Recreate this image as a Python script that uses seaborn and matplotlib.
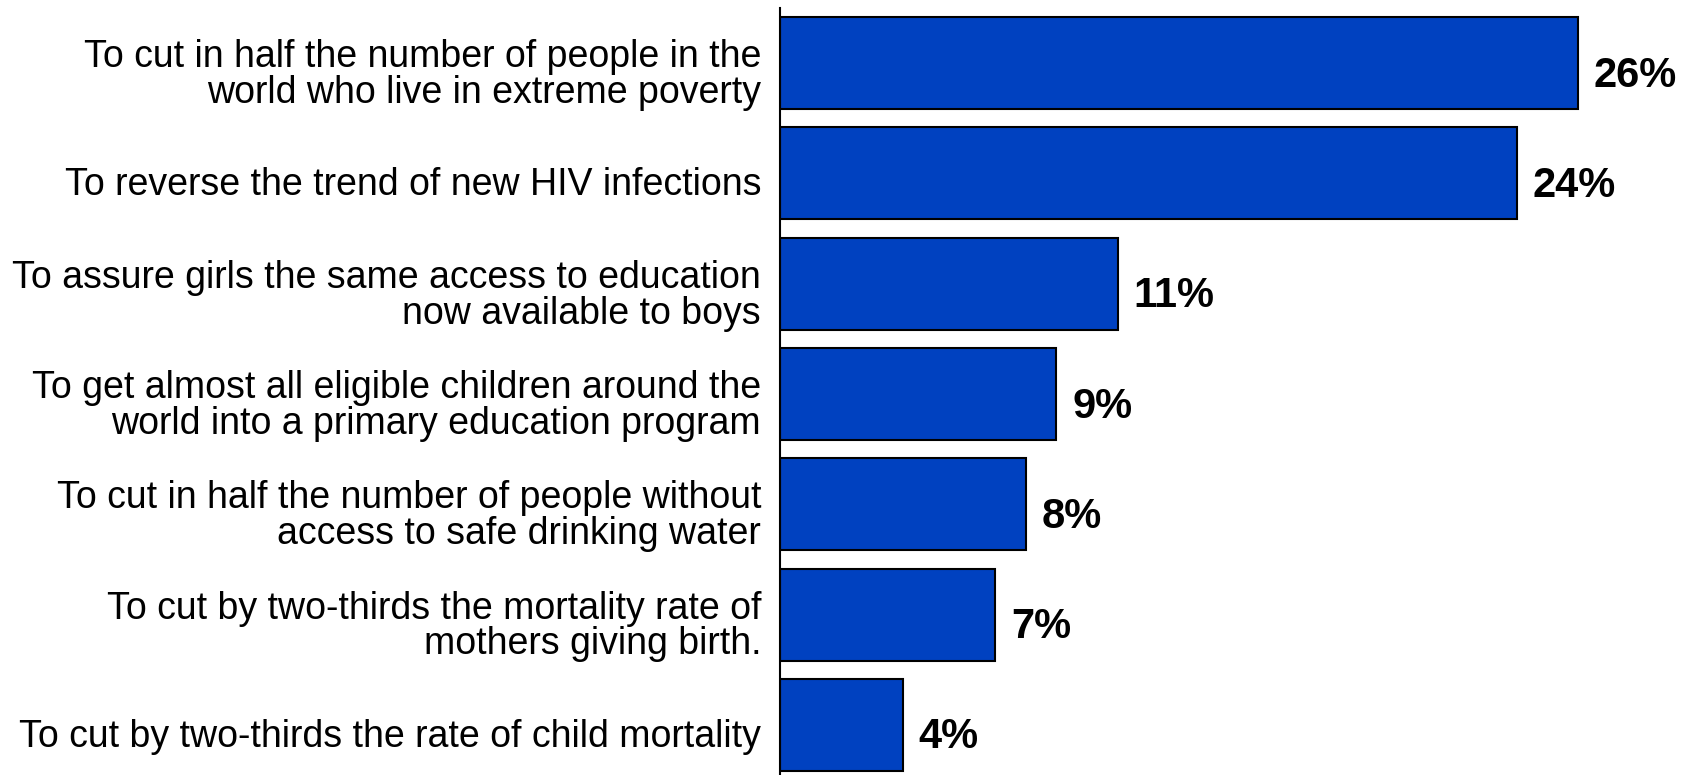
import matplotlib
matplotlib.use("Agg")
import matplotlib.pyplot as plt
import matplotlib.transforms as mtransforms
import seaborn as sns
import pandas as pd

categories = [
    "To cut in half the number of people in the\nworld who live in extreme poverty",
    "To reverse the trend of new HIV infections",
    "To assure girls the same access to education\nnow available to boys",
    "To get almost all eligible children around the\nworld into a primary education program",
    "To cut in half the number of people without\naccess to safe drinking water",
    "To cut by two-thirds the mortality rate of\nmothers giving birth.",
    "To cut by two-thirds the rate of child mortality",
]
values = [26, 24, 11, 9, 8, 7, 4]
value_labels = ["26%", "24%", "11%", "9%", "8%", "7%", "4%"]

sns.set_style("white")
plt.rcParams['font.family'] = ['Liberation Sans', 'DejaVu Sans']

df = pd.DataFrame({"goal": categories, "pct": values})

fig = plt.figure(figsize=(16.92, 7.75), dpi=100)
ax = fig.add_axes([780 / 1692, 0, (1692 - 780) / 1692, 767 / 775])

sns.barplot(data=df, y="goal", x="pct", orient="h", color="#0041C0",
            saturation=1, edgecolor="black", linewidth=1.5, width=0.834, ax=ax)

ax.set_xlim(0, 912 / 30.69)
ax.set_ylim(6.454, -0.5)
ax.set_xlabel("")
ax.set_ylabel("")
ax.set_xticks([])
ax.set_yticks([])
for s in ["top", "right", "bottom"]:
    ax.spines[s].set_visible(False)
ax.spines["left"].set_color("black")
ax.spines["left"].set_linewidth(1.5)

# category labels, placed by the y axis (data) transform and shifted slightly
lab_tr = ax.get_yaxis_transform() + mtransforms.ScaledTranslation(
    -19 / 100, -12 / 100, fig.dpi_scale_trans)
for i, cat in enumerate(df["goal"]):
    ax.text(0, i, cat, transform=lab_tr, ha="right", va="center",
            fontsize=27, linespacing=0.99, color="black")

anns = ax.bar_label(ax.containers[0], labels=value_labels, padding=11.5,
                    fontsize=30, fontweight="bold", color="black")
for a in anns:
    a.xyann = (11.5, -9)

fig.savefig("out.png", dpi=100)
